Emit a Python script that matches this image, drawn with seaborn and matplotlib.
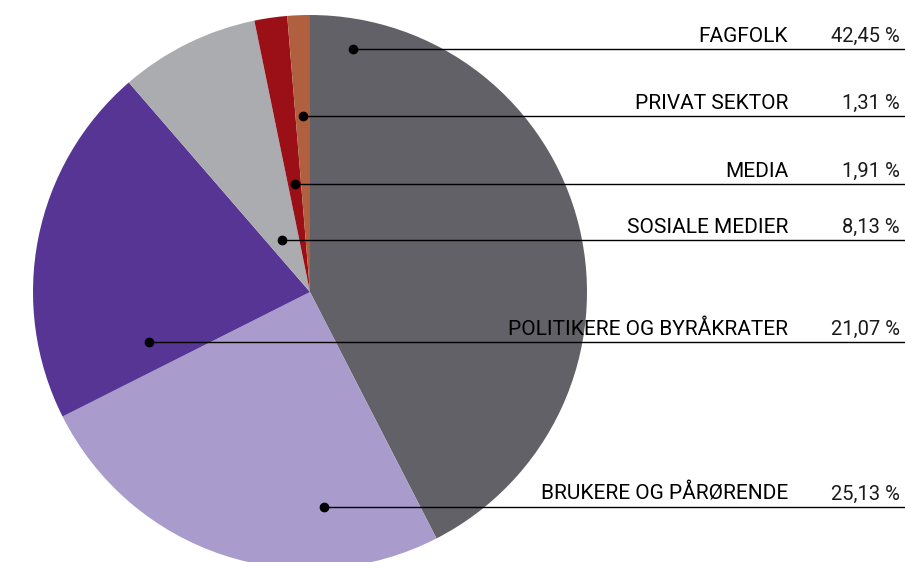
import numpy as np
import matplotlib
matplotlib.use('Agg')
import matplotlib.pyplot as plt
import seaborn as sns

# data (pie order, clockwise from top)
categories = ['FAGFOLK', 'BRUKERE OG PÅRØRENDE', 'POLITIKERE OG BYRÅKRATER',
              'SOSIALE MEDIER', 'MEDIA', 'PRIVAT SEKTOR']
shares = [42.45, 25.13, 21.07, 8.13, 1.91, 1.31]
colors = ['#636168', '#a99bcb', '#563594', '#abacaf', '#9b1016', '#b0603f']

# label layout (pixel coords, y from top), same order as categories
label_y = [49, 507, 342, 240, 184, 116]
dot_x = [353, 324, 149, 282, 295, 303]

W, H = 905, 562
sns.set_theme(style='white')
plt.rcParams['font.family'] = ['Roboto', 'DejaVu Sans']

fig = plt.figure(figsize=(W / 100, H / 100), dpi=100, facecolor='white')
ax = fig.add_axes([0, 0, 1, 1])

ax.pie(shares, colors=colors, startangle=90, counterclock=False,
       center=(310, H - 292), radius=277,
       wedgeprops=dict(linewidth=0))
ax.set_xlim(0, W)
ax.set_ylim(0, H)
ax.set_aspect('equal')
ax.axis('off')

for cat, val, ly, dx in zip(categories, shares, label_y, dot_x):
    y = H - ly
    ax.plot([dx, W], [y, y], color='black', linewidth=1.0, zorder=3)
    ax.plot(dx, y, 'o', color='black', markersize=6, zorder=4)
    ax.text(788, y + 7, cat, ha='right', va='baseline', fontsize=15,
            fontweight='normal', color='black', zorder=5)
    ax.text(900, y + 7, f'{val:.2f} %'.replace('.', ','), ha='right',
            va='baseline', fontsize=14.5, fontweight='normal',
            color='#1a1a1a', zorder=5)

plt.savefig('out.png', dpi=100, facecolor='white')
